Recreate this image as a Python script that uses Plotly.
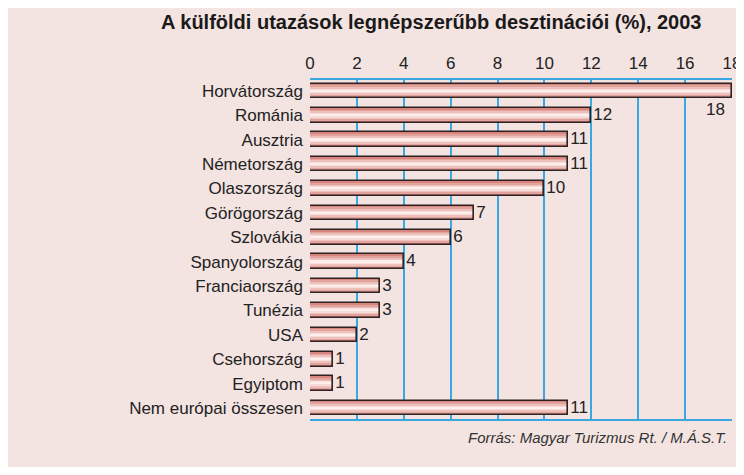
import plotly.graph_objects as go

categories = ["Horvátország", "Románia", "Ausztria", "Németország", "Olaszország",
              "Görögország", "Szlovákia", "Spanyolország", "Franciaország", "Tunézia",
              "USA", "Csehország", "Egyiptom", "Nem európai összesen"]
values = [18, 12, 11, 11, 10, 7, 6, 4, 3, 3, 2, 1, 1, 11]
tick_vals = [0, 2, 4, 6, 8, 10, 12, 14, 16, 18]

title = "A külföldi utazások legnépszerűbb desztinációi (%), 2003"
source = "Forrás: Magyar Turizmus Rt. / M.Á.S.T."

FONT = "Liberation Sans"
BG = "#f3e3e1"
GRID = "#3aa8e0"

# figure is offset by the page's 8px body margin
L, R, T, B = 302, 12, 72, 48
W, H = 736, 459
PW, PH = W - L - R, H - T - B

def px(fx):
    return (fx - L) / PW

def py(fy):
    return (H - B - fy) / PH

fig = go.Figure()

# gradient layers (outer to inner)
layers = [(0.60, "#d6857f"), (0.46, "#e3a39d"), (0.32, "#eec0bb"), (0.18, "#f7dcd8"), (0.07, "#fcefed")]
for w, c in layers:
    fig.add_trace(go.Bar(x=values, y=categories, orientation="h", width=w,
                         marker=dict(color=c, line=dict(width=0)),
                         hoverinfo="skip", showlegend=False))

max_v = max(values)
labels = ["" if v == max_v else str(v) for v in values]
fig.add_trace(go.Bar(x=values, y=categories, orientation="h", width=0.60,
                     marker=dict(color="rgba(0,0,0,0)", line=dict(color="#2e2222", width=1.6)),
                     text=labels, textposition="outside", cliponaxis=False,
                     constraintext="none",
                     textfont=dict(family=FONT, size=17, color="#222"),
                     showlegend=False))

for cat, v in zip(categories, values):
    if v == max_v:
        fig.add_annotation(x=v, y=cat, text=str(v), showarrow=False,
                           xanchor="right", yanchor="top", xshift=-5, yshift=-7,
                           font=dict(family=FONT, size=17, color="#222"))

fig.add_annotation(text="<b>" + title + "</b>", xref="paper", yref="paper",
                   x=px(423), y=py(14), xanchor="center", yanchor="middle",
                   showarrow=False, font=dict(family=FONT, size=20, color="#1a1a1a"))
fig.add_annotation(text="<i>" + source + "</i>", xref="paper", yref="paper",
                   x=px(721), y=py(429), xanchor="right", yanchor="middle",
                   showarrow=False, font=dict(family=FONT, size=15, color="#333"))

fig.update_layout(
    width=W, height=H,
    margin=dict(l=L, r=R, t=T, b=B, autoexpand=False),
    paper_bgcolor=BG, plot_bgcolor=BG,
    barmode="overlay", bargap=0,
    xaxis=dict(side="top", range=[0, 18], tickvals=tick_vals, showgrid=True,
               gridcolor=GRID, gridwidth=1.8, showline=True, linecolor=GRID, linewidth=1.8,
               mirror=True, zeroline=False, ticks="", ticklen=0, automargin=False,
               ticklabelstandoff=2,
               tickfont=dict(family=FONT, size=17, color="#222")),
    yaxis=dict(categoryorder="array", categoryarray=categories, autorange=False,
               range=[13.45, -0.45], showgrid=False, showline=False, zeroline=False,
               ticks="", ticklabelstandoff=6, automargin=False,
               tickfont=dict(family=FONT, size=17, color="#222")),
)

fig.write_html("out.html")
